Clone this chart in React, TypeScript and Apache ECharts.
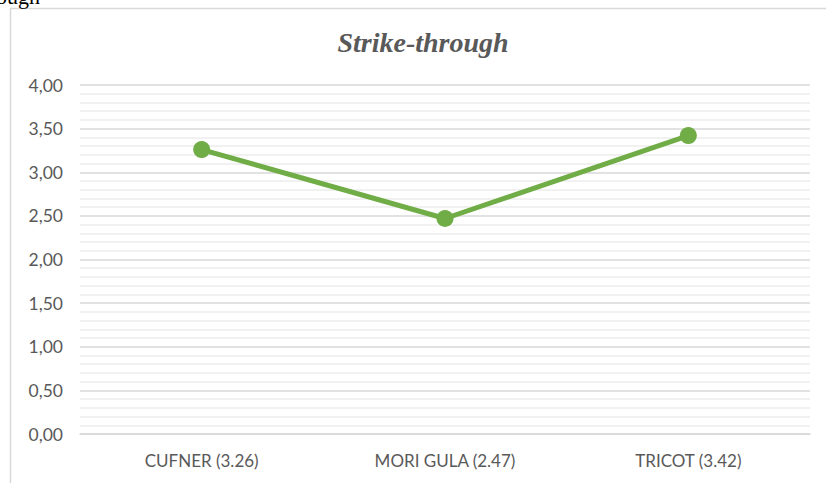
import React, { useEffect, useRef } from "react";
import * as echarts from "echarts";

const categories = ["CUFNER (3.26)", "MORI GULA (2.47)", "TRICOT (3.42)"];
const values = [3.26, 2.47, 3.42];
const titleText = "Strike-through";

export default function App() {
  const ref = useRef<HTMLDivElement>(null);
  useEffect(() => {
    if (!ref.current) return;
    const chart = echarts.init(ref.current, null, { renderer: "svg" });
    chart.setOption({
      animation: false,
      backgroundColor: "#ffffff",
      title: {
        text: titleText,
        left: 418,
        textAlign: "center",
        top: 23,
        textStyle: {
          fontFamily: "'Liberation Serif', 'DejaVu Serif', serif",
          fontStyle: "italic",
          fontWeight: "bold",
          fontSize: 28,
          color: "#595959",
        },
      },
      graphic: [
        {
          type: "rect",
          shape: { x: 10.5, y: 8.5, width: 840, height: 520 },
          style: { fill: "none", stroke: "#d9d9d9", lineWidth: 1.5 },
          silent: true,
          z: -1,
        },
        {
          type: "text",
          x: -4,
          y: 7,
          style: {
            text: "ough",
            fontFamily: "'Liberation Serif', serif",
            fontSize: 22,
            fill: "#000000",
            verticalAlign: "bottom",
          },
        },
      ],
      grid: { left: 80, right: 16, top: 85, bottom: 49, containLabel: false },
      xAxis: {
        type: "category",
        data: categories,
        boundaryGap: true,
        axisLine: { show: true, lineStyle: { color: "#d9d9d9", width: 1.5 } },
        axisTick: { show: false },
        axisLabel: {
          color: "#595959",
          fontFamily: "Lato, 'Open Sans', sans-serif",
          fontSize: 17,
          margin: 18,
        },
      },
      yAxis: {
        type: "value",
        min: 0,
        max: 4,
        interval: 0.5,
        axisLine: { show: false },
        axisTick: { show: false },
        axisLabel: {
          color: "#595959",
          fontFamily: "Lato, 'Open Sans', sans-serif",
          fontSize: 17.5,
          margin: 17,
          formatter: (v: number) => v.toFixed(2).replace(".", ","),
        },
        splitLine: { show: true, lineStyle: { color: "#d9d9d9", width: 1.5 } },
        minorTick: { show: false, splitNumber: 5 },
        minorSplitLine: { show: true, lineStyle: { color: "#ededed", width: 1.5 } },
      },
      series: [
        {
          type: "line",
          data: values,
          symbol: "circle",
          symbolSize: 17,
          lineStyle: { color: "#70ad47", width: 5 },
          itemStyle: { color: "#70ad47" },
        },
      ],
    });
    return () => chart.dispose();
  }, []);
  return (
    <div
      ref={ref}
      style={{ position: "fixed", left: 0, top: 0, width: 826, height: 483 }}
    />
  );
}
